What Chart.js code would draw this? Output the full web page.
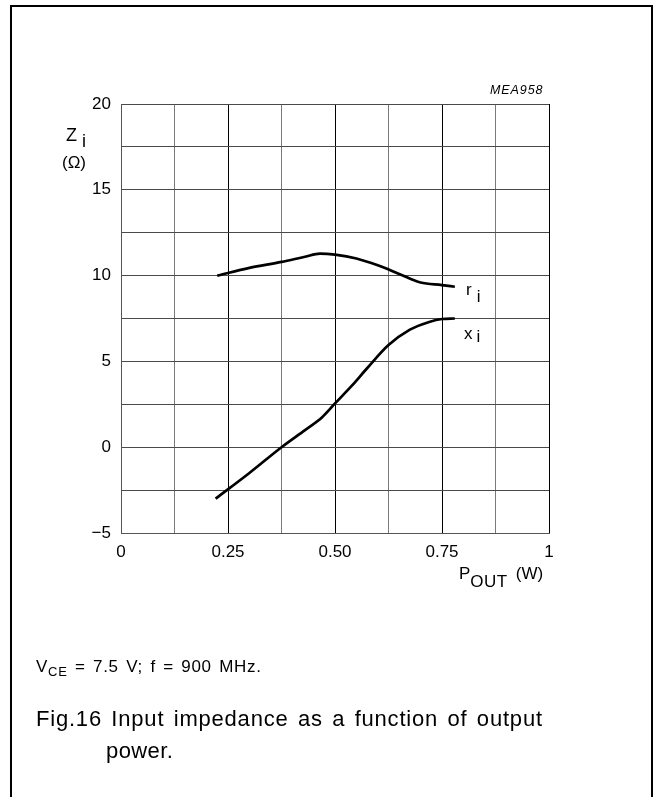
<!DOCTYPE html>
<html>
<head>
<meta charset="utf-8">
<script src="https://cdn.jsdelivr.net/npm/chart.js@4.4.1/dist/chart.umd.min.js"></script>
<style>
  html, body { margin: 0; padding: 0; background: #fff; }
  body { width: 654px; height: 797px; position: relative; overflow: hidden; font-family: "Liberation Sans", Arial, sans-serif; color: #000; }
  #wrap { position: absolute; left: 0; top: 0; width: 654px; height: 797px; }
  #frame { position: absolute; left: 10px; top: 5px; width: 643px; height: 820px; border: 2px solid #000; border-bottom: none; box-sizing: border-box; }
  .t { position: absolute; white-space: nowrap; line-height: 1; }
</style>
</head>
<body>
<div id="frame"></div>
<div id="wrap"><canvas id="c" width="654" height="797"></canvas></div>
<div class="t" style="left:490px; top:84px; font-size:12.5px; font-style:italic; letter-spacing:0.9px;">MEA958</div>
<div class="t" style="left:66px; top:126px; font-size:18px;">Z<span style="position:relative; top:6px; margin-left:5px;">i</span></div>
<div class="t" style="left:62px; top:154px; font-size:17px;">(Ω)</div>
<div class="t" style="left:466px; top:281px; font-size:17px;">r<span style="position:relative; top:7px; margin-left:5px;">i</span></div>
<div class="t" style="left:464px; top:325px; font-size:17px;">x<span style="position:relative; top:3px; margin-left:4px;">i</span></div>
<div class="t" style="left:459px; top:565px; font-size:17px;">P<span style="position:relative; top:8px; letter-spacing:0.5px;">OUT</span><span style="font-size:17px; margin-left:8px;">(W)</span></div>
<div class="t" style="left:36px; top:658px; font-size:17px; letter-spacing:0.7px; word-spacing:2px;">V<span style="font-size:13px; position:relative; top:4px;">CE</span> = 7.5 V; f = 900 MHz.</div>
<div class="t" style="left:36px; top:708px; font-size:22px; letter-spacing:0.8px; word-spacing:2.5px;">Fig.16 Input impedance as a function of output</div>
<div class="t" style="left:106px; top:740px; font-size:22px; letter-spacing:0.4px;">power.</div>
<script>
// ---- data ----
const riX = [0.225, 0.30, 0.375, 0.43, 0.465, 0.50, 0.55, 0.60, 0.65, 0.70, 0.75, 0.78];
const riY = [10.0, 10.45, 10.8, 11.1, 11.28, 11.22, 11.0, 10.6, 10.1, 9.6, 9.45, 9.35];
const xiX = [0.221, 0.30, 0.375, 0.43, 0.47, 0.50, 0.54, 0.575, 0.625, 0.675, 0.72, 0.75, 0.78];
const xiY = [-3.0, -1.5, 0.0, 1.0, 1.75, 2.55, 3.6, 4.6, 5.95, 6.85, 7.3, 7.47, 7.5];
const xTickValues = [0, 0.25, 0.5, 0.75, 1];
const xTickLabels = ['0', '0.25', '0.50', '0.75', '1'];
const yTickValues = [20, 15, 10, 5, 0, -5];
const yTickLabels = ['20', '15', '10', '5', '0', '\u22125'];

const toPts = (xs, ys) => xs.map((x, i) => ({ x: x, y: ys[i] }));
const near = (a, b) => Math.abs(a - b) < 1e-6;

const ctx = document.getElementById('c').getContext('2d');
new Chart(ctx, {
  type: 'scatter',
  data: {
    datasets: [
      { label: 'ri', data: toPts(riX, riY), showLine: true, borderColor: '#000', borderWidth: 2.7, pointRadius: 0, cubicInterpolationMode: 'monotone', fill: false },
      { label: 'xi', data: toPts(xiX, xiY), showLine: true, borderColor: '#000', borderWidth: 2.7, pointRadius: 0, cubicInterpolationMode: 'monotone', fill: false }
    ]
  },
  options: {
    responsive: false,
    animation: false,
    devicePixelRatio: 1,
    layout: { padding: { left: 0, top: 104, right: 105, bottom: 0 } },
    plugins: { legend: { display: false }, tooltip: { enabled: false } },
    scales: {
      x: {
        type: 'linear', min: 0, max: 1,
        afterFit: s => { s.height = 797 - 104 - 429; },
        afterBuildTicks: s => { s.ticks = [0,0.125,0.25,0.375,0.5,0.625,0.75,0.875,1].map(v => ({ value: v })); },
        grid: { drawTicks: false, lineWidth: 1, color: c => (xTickValues.some(v => near(v, c.tick.value)) ? '#000' : '#7a7a7a') },
        border: { display: true, color: '#555', width: 1 },
        ticks: {
          autoSkip: false, maxRotation: 0, padding: 9, color: '#000',
          font: { family: '"Liberation Sans", Arial, sans-serif', size: 17 },
          callback: v => { const i = xTickValues.findIndex(t => near(t, v)); return i >= 0 ? xTickLabels[i] : ''; }
        }
      },
      y: {
        type: 'linear', min: -5, max: 20,
        afterFit: s => { s.width = 121; },
        afterBuildTicks: s => { const a = []; for (let v = -5; v <= 20.001; v += 2.5) a.push({ value: v }); s.ticks = a; },
        grid: { drawTicks: false, lineWidth: 1, color: '#4a4a4a' },
        border: { display: true, color: '#555', width: 1 },
        ticks: {
          autoSkip: false, padding: 10, color: '#000',
          font: { family: '"Liberation Sans", Arial, sans-serif', size: 17 },
          callback: v => { const i = yTickValues.findIndex(t => near(t, v)); return i >= 0 ? yTickLabels[i] : ''; }
        }
      }
    }
  }
});
</script>
</body>
</html>
